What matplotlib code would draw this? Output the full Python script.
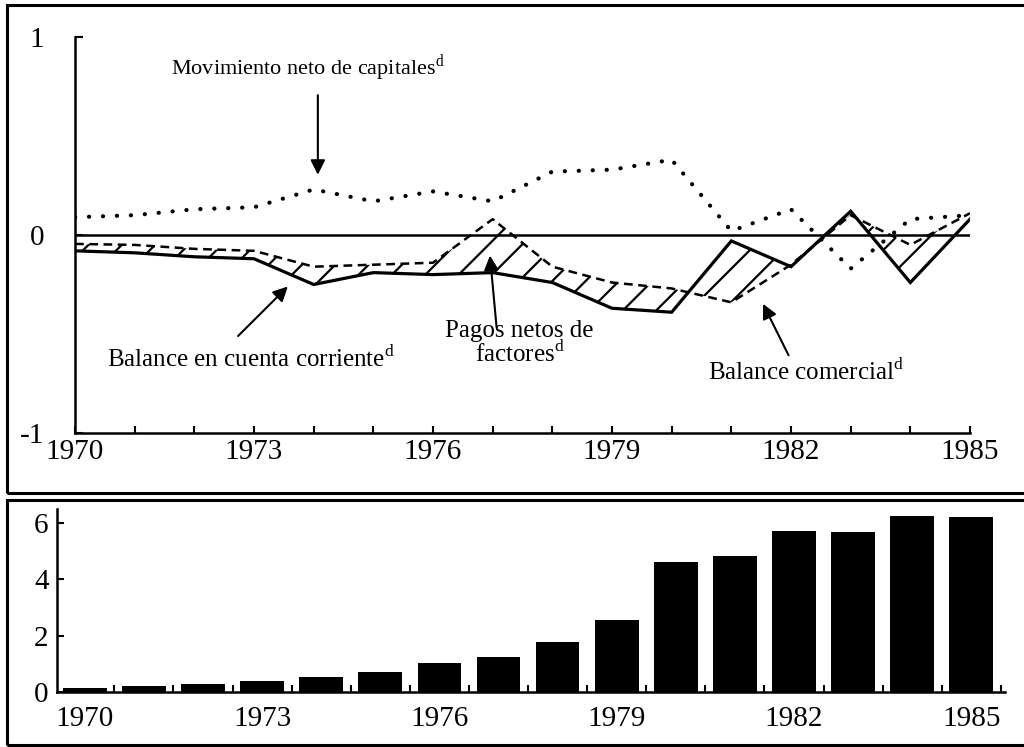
import matplotlib
matplotlib.use("Agg")

import numpy as np
import matplotlib.pyplot as plt
from matplotlib.patches import Rectangle

plt.rcParams['font.family'] = ['Liberation Serif', 'DejaVu Serif']
plt.rcParams['mathtext.fontset'] = 'custom'
plt.rcParams['mathtext.rm'] = 'Liberation Serif'
plt.rcParams['hatch.linewidth'] = 1.6

years = list(range(1970, 1986))

# top panel series
capitales = [0.09, 0.10, 0.13, 0.14, 0.23, 0.17, 0.22, 0.17, 0.32, 0.33, 0.38,
             0.02, 0.13, -0.17, 0.08, 0.10]
cuenta_corriente = [-0.08, -0.09, -0.11, -0.12, -0.25, -0.19, -0.20, -0.19, -0.24,
                    -0.37, -0.39, -0.03, -0.16, 0.12, -0.24, 0.08]
comercial = [-0.045, -0.05, -0.07, -0.08, -0.16, -0.15, -0.14, 0.08, -0.16, -0.24,
             -0.27, -0.34, -0.15, 0.10, -0.05, 0.11]

# bottom panel bars
bar_values = [0.15, 0.2, 0.3, 0.4, 0.53, 0.7, 1.03, 1.25, 1.78, 2.56, 4.6, 4.84,
              5.73, 5.69, 6.26, 6.23]

label_years = [1970, 1973, 1976, 1979, 1982, 1985]

W, H = 1024, 747
fig = plt.figure(figsize=(W / 100, H / 100), dpi=100)

def fx(px):
    return px / W

def fy(py):
    return 1 - py / H

# frames around the two panels
for top, bottom in [(5, 493), (500, 745)]:
    fig.add_artist(Rectangle((fx(7), fy(bottom)), 1.2, fy(top) - fy(bottom),
                             transform=fig.transFigure, fill=False,
                             lw=2.2, edgecolor='black', clip_on=False))

tick_font = dict(fontsize=21)
ann_font = 18

# ---------- top panel ----------
ax = fig.add_axes([fx(75), fy(433), fx(970) - fx(75), fy(37) - fy(433)])
ax.set_xlim(1970, 1985)
ax.set_ylim(-1, 1)
for s in ['top', 'right']:
    ax.spines[s].set_visible(False)
for s in ['left', 'bottom']:
    ax.spines[s].set_linewidth(1.8)

ax.axhline(0, color='black', lw=1.8)
ax.fill_between(years, cuenta_corriente, comercial, facecolor='none',
                edgecolor='black', hatch='/', linewidth=0)
ax.plot(years, cuenta_corriente, color='black', lw=2.3, solid_joinstyle='miter')
ax.plot(years, comercial, color='black', lw=1.8, linestyle=(0, (3.5, 2.2)))
ax.plot(years, capitales, color='black', lw=3, linestyle=(0, (0.05, 3.3)),
        dash_capstyle='round')

ax.set_xticks(label_years)
ax.set_xticks(years, minor=True)
ax.set_xticklabels([str(y) for y in label_years], **tick_font)
ax.set_yticks([-1, 0, 1])
ax.set_yticklabels(['-1', '0', '1'], **tick_font)
ax.tick_params(axis='x', which='both', direction='in', length=5, width=1.5, pad=4)
ax.tick_params(axis='y', direction='in', length=6, width=1.5, pad=22)

arrow = dict(arrowstyle='-|>', color='black', lw=1.5, mutation_scale=22)
ax.annotate('', xy=(1974.07, 0.29), xytext=(1974.07, 0.72), arrowprops=arrow)
ax.text(1973.9, 0.84, 'Movimiento neto de capitales$^{\\mathrm{d}}$',
        ha='center', va='center', fontsize=16)
ax.annotate('', xy=(1973.6, -0.25), xytext=(1972.7, -0.52), arrowprops=arrow)
ax.text(1972.95, -0.625, 'Balance en cuenta corriente$^{\\mathrm{d}}$',
        ha='center', va='center', fontsize=ann_font)
ax.annotate('', xy=(1976.95, -0.09), xytext=(1977.07, -0.48), arrowprops=arrow)
ax.text(1977.45, -0.55, 'Pagos netos de\nfactores$^{\\mathrm{d}}$',
        ha='center', va='center', fontsize=ann_font, linespacing=0.95)
ax.annotate('', xy=(1981.51, -0.335), xytext=(1981.98, -0.62), arrowprops=arrow)
ax.text(1982.25, -0.69, 'Balance comercial$^{\\mathrm{d}}$',
        ha='center', va='center', fontsize=ann_font)

# ---------- bottom panel ----------
bx = fig.add_axes([fx(57), fy(692), fx(1005) - fx(57), fy(509) - fy(692)])
bx.set_xlim(1969.53, 1985.57)
bx.set_ylim(0, 6.5)
for s in ['top', 'right']:
    bx.spines[s].set_visible(False)
for s in ['left', 'bottom']:
    bx.spines[s].set_linewidth(1.8)

bx.bar(years, bar_values, width=0.74, color='black')

bx.set_xticks(label_years)
bx.set_xticklabels([str(y) for y in label_years], **tick_font)
bx.set_xticks([y + 0.5 for y in years], minor=True)
bx.tick_params(axis='x', which='major', length=0, pad=10)
bx.tick_params(axis='x', which='minor', direction='in', length=5, width=1.5)
bx.set_yticks([0, 2, 4, 6])
bx.set_yticklabels(['0', '2', '4', '6'], **tick_font)
bx.tick_params(axis='y', direction='in', length=5, width=1.5, pad=6)

fig.savefig('out.png', dpi=100)
